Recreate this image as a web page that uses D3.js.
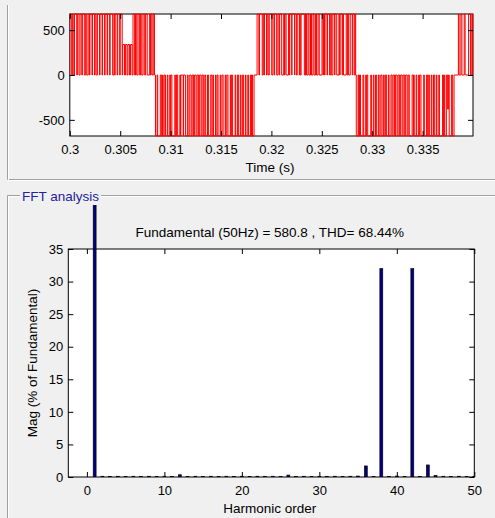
<!DOCTYPE html>
<html>
<head>
<meta charset="utf-8">
<script src="https://cdn.jsdelivr.net/npm/d3@7"></script>
<style>
  body { margin: 0; background: #f0f0f0; }
  text { font-family: "Liberation Sans", Arial, sans-serif; }
</style>
</head>
<body>
<div id="wrapper"></div>
<script>
// pulse edges, in ms: [on, off, level (optional)]
const pulsesPos1 = [[300.00,300.19],[300.25,300.34],[300.47,300.69],[300.75,300.91],[301.02,301.19],[301.25,301.44],[301.57,301.68],[301.82,301.95],[302.00,302.20],[302.25,302.45],[302.50,302.61],[302.74,302.95],[303.00,303.20],[303.25,303.45],[303.50,303.70],[303.75,303.95],[304.00,304.25],[304.38,304.45],[304.50,304.70],[304.75,304.95],[305.00,305.20],[305.25,305.43,340],[305.52,305.68,340],[305.77,305.93,340],[306.02,306.18,340],[306.27,306.43],[306.52,306.64],[306.77,306.93],[307.02,307.14],[307.27,307.43],[307.52,307.68],[307.92,308.00],[308.06,308.16],[308.28,308.40]];
const pulsesNeg1 = [[308.50,308.66],[308.72,308.98],[309.11,309.20],[309.25,309.36],[309.49,309.67],[309.73,309.92],[309.97,310.02],[310.13,310.42],[310.47,310.58],[310.70,310.92],[310.97,311.02],[311.25,311.28],[311.47,311.66],[311.74,311.90],[312.04,312.14],[312.28,312.38],[312.53,312.63],[312.78,312.88],[313.03,313.13],[313.28,313.40],[313.48,313.66],[313.77,313.98],[314.10,314.20],[314.25,314.45],[314.50,314.61],[314.71,314.92],[314.97,315.10],[315.21,315.42],[315.47,315.58],[315.69,315.92],[315.97,316.03],[316.15,316.40],[316.46,316.63],[316.75,316.92],[316.98,317.12],[317.24,317.42],[317.48,317.66],[317.72,317.91],[317.96,318.03],[318.13,318.28]];
const pulsesPos2 = [[318.58,318.76],[318.82,319.09],[319.19,319.27],[319.32,319.52],[319.57,319.68],[319.79,320.03],[320.15,320.27],[320.32,320.52],[320.65,320.77],[320.82,321.02],[321.22,321.30],[321.35,321.46],[321.70,321.77],[321.82,322.02],[322.04,322.30],[322.32,322.48],[322.56,322.77],[322.81,322.86],[322.95,323.27],[323.38,323.48],[323.63,323.73],[323.88,323.98],[324.13,324.23],[324.38,324.48],[324.63,324.75],[325.02,325.12],[325.16,325.27],[325.32,325.52],[325.57,325.77],[325.88,325.98],[326.10,326.28],[326.30,326.48],[326.70,326.77],[326.82,327.02],[327.07,327.15],[327.42,327.52],[327.57,327.66],[327.82,328.02],[328.07,328.22],[328.30,328.36]];
const pulsesNeg2 = [[328.42,328.60],[328.66,328.74],[328.84,329.08],[329.16,329.36],[329.41,329.46],[329.56,329.86],[329.92,330.11],[330.17,330.33],[330.44,330.61],[330.69,330.85],[330.97,331.11],[331.19,331.31],[331.43,331.61],[331.67,331.86],[331.97,332.07],[332.22,332.32],[332.47,332.57],[332.72,332.82],[332.97,333.07],[333.22,333.32],[333.47,333.57],[333.68,333.96],[334.08,334.11],[334.17,334.36],[334.42,334.61],[334.67,334.72],[334.84,335.11],[335.17,335.38],[335.50,335.61],[335.67,335.86],[335.92,336.08],[336.20,336.36],[336.42,336.61],[336.67,336.98],[337.08,337.15],[337.20,337.36],[337.48,337.58,380],[337.64,337.86],[337.98,338.12]];
const pulsesPos3 = [[338.55,338.62],[338.80,338.90],[339.13,339.22],[339.56,339.75],[339.88,339.95]];
const dcLevel = 680;

const timeTicks = [0.3, 0.305, 0.31, 0.315, 0.32, 0.325, 0.33, 0.335];
const voltTicks = [-500, 0, 500];

const harmonics = [0,1,2,3,4,5,6,7,8,9,10,11,12,13,14,15,16,17,18,19,20,21,22,23,24,25,26,27,28,29,30,31,32,33,34,35,36,37,38,39,40,41,42,43,44,45,46,47,48,49,50];
const magnitudes = [0,100,0.12,0.1,0.12,0.1,0.12,0.1,0.12,0.1,0.12,0.1,0.35,0.1,0.12,0.1,0.12,0.1,0.12,0.1,0.12,0.1,0.12,0.1,0.12,0.1,0.3,0.1,0.12,0.1,0.12,0.1,0.12,0.1,0.12,0.15,1.7,0.1,32.0,0.1,0.15,0.1,32.0,0.1,1.85,0.25,0.12,0.1,0.12,0.1,0.12];
const harmTicks = [0, 10, 20, 30, 40, 50];
const magTicks = [0, 5, 10, 15, 20, 25, 30, 35];

const titleText = "Fundamental (50Hz) = 580.8 , THD= 68.44%";

const W = 495, H = 518;
const svg = d3.select("#wrapper").append("svg")
    .attr("width", W).attr("height", H);

svg.append("rect").attr("width", W).attr("height", H).attr("fill", "#f0f0f0");

// panel frames
const frame = svg.append("g").attr("fill", "none");
frame.append("path").attr("d", "M7.5,5 V179.5 H495").attr("stroke", "#a0a0a0");
frame.append("path").attr("d", "M8.5,5 V180.5 H495").attr("stroke", "#ffffff");
frame.append("path").attr("d", "M20,195.5 H7.5 V518 M101,195.5 H495").attr("stroke", "#a0a0a0");
frame.append("path").attr("d", "M20,196.5 H8.5 V518 M101,196.5 H495").attr("stroke", "#ffffff");
svg.append("text").attr("x", 22).attr("y", 201)
    .style("font-size", "13.5px").attr("fill", "#2222a0").text("FFT analysis");

// ---------- top: time signal ----------
const sigBox = { left: 69.8, right: 473, top: 14, bottom: 136 };
const xTime = d3.scaleLinear().domain([0.3, 0.34]).range([sigBox.left, sigBox.right]);
const yVolt = d3.scaleLinear().domain([-dcLevel, dcLevel]).range([sigBox.bottom, sigBox.top]);

svg.append("rect").attr("x", sigBox.left).attr("y", sigBox.top)
    .attr("width", sigBox.right - sigBox.left).attr("height", sigBox.bottom - sigBox.top)
    .attr("fill", "#fff");

svg.append("clipPath").attr("id", "clipTop").append("rect")
    .attr("x", sigBox.left).attr("y", sigBox.top - 1)
    .attr("width", sigBox.right - sigBox.left).attr("height", sigBox.bottom - sigBox.top + 2);

const halves = [[pulsesPos1, 1], [pulsesNeg1, -1], [pulsesPos2, 1], [pulsesNeg2, -1], [pulsesPos3, 1]];
const pts = [[300, 0]];
halves.forEach(([pulses, s]) => {
    pulses.forEach(p => {
        const lvl = (p[2] || dcLevel) * s;
        pts.push([p[0], 0], [p[0], lvl], [p[1], lvl], [p[1], 0]);
    });
});
pts.push([340, 0]);

const line = d3.line()
    .x(d => xTime(d[0] / 1000))
    .y(d => yVolt(d[1]));

svg.append("rect").attr("x", sigBox.left).attr("y", sigBox.top)
    .attr("width", sigBox.right - sigBox.left).attr("height", sigBox.bottom - sigBox.top)
    .attr("fill", "none").attr("stroke", "#000");

svg.append("path")
    .attr("d", line(pts))
    .attr("clip-path", "url(#clipTop)")
    .attr("fill", "none")
    .attr("stroke", "#ff0000")
    .attr("stroke-width", 1);

function styleAxis(g) {
    g.select(".domain").remove();
    g.selectAll("text").style("font-size", "13px").attr("fill", "#000");
    g.selectAll("line").attr("stroke", "#000");
}

svg.append("g").attr("transform", `translate(0,${sigBox.bottom})`)
    .call(d3.axisBottom(xTime).tickValues(timeTicks).tickSizeInner(-5).tickSizeOuter(0)
        .tickPadding(8.8).tickFormat(d => String(d)))
    .call(styleAxis);
svg.append("g").attr("transform", `translate(0,${sigBox.top})`)
    .call(d3.axisTop(xTime).tickValues(timeTicks).tickSizeInner(-5).tickSizeOuter(0).tickFormat(""))
    .call(styleAxis);
svg.append("g").attr("transform", `translate(${sigBox.left},0)`)
    .call(d3.axisLeft(yVolt).tickValues(voltTicks).tickSizeInner(-5).tickSizeOuter(0).tickPadding(5)
        .tickFormat(d => String(d)))
    .call(styleAxis);
svg.append("g").attr("transform", `translate(${sigBox.right},0)`)
    .call(d3.axisRight(yVolt).tickValues(voltTicks).tickSizeInner(-5).tickSizeOuter(0).tickFormat(""))
    .call(styleAxis);

svg.append("text").attr("x", (sigBox.left + sigBox.right) / 2 - 1.5).attr("y", 171.5)
    .attr("text-anchor", "middle").style("font-size", "13.5px").text("Time (s)");

// ---------- bottom: FFT bars ----------
const fftBox = { left: 68.3, right: 474.3, top: 249, bottom: 477 };
const xHarm = d3.scaleLinear().domain([-2.4, 50]).range([fftBox.left, fftBox.right]);
const yMag = d3.scaleLinear().domain([0, 35]).range([fftBox.bottom, fftBox.top]);

svg.append("rect").attr("x", fftBox.left).attr("y", fftBox.top)
    .attr("width", fftBox.right - fftBox.left).attr("height", fftBox.bottom - fftBox.top)
    .attr("fill", "#fff");

svg.append("clipPath").attr("id", "clipBars").append("rect")
    .attr("x", fftBox.left).attr("y", 205)
    .attr("width", fftBox.right - fftBox.left).attr("height", fftBox.bottom - 205);

svg.append("rect").attr("x", fftBox.left).attr("y", fftBox.top)
    .attr("width", fftBox.right - fftBox.left).attr("height", fftBox.bottom - fftBox.top)
    .attr("fill", "none").attr("stroke", "#000");

svg.append("g").attr("transform", `translate(0,${fftBox.bottom})`)
    .call(d3.axisBottom(xHarm).tickValues(harmTicks).tickSizeInner(-5).tickSizeOuter(0).tickPadding(8.8))
    .call(styleAxis);
svg.append("g").attr("transform", `translate(0,${fftBox.top})`)
    .call(d3.axisTop(xHarm).tickValues(harmTicks).tickSizeInner(-5).tickSizeOuter(0).tickFormat(""))
    .call(styleAxis);
svg.append("g").attr("transform", `translate(${fftBox.left},0)`)
    .call(d3.axisLeft(yMag).tickValues(magTicks).tickSizeInner(-5).tickSizeOuter(0).tickPadding(5))
    .call(styleAxis);
svg.append("g").attr("transform", `translate(${fftBox.right},0)`)
    .call(d3.axisRight(yMag).tickValues(magTicks).tickSizeInner(-5).tickSizeOuter(0).tickFormat(""))
    .call(styleAxis);

svg.append("g").attr("clip-path", "url(#clipBars)")
    .selectAll("rect").data(harmonics.filter((h, i) => magnitudes[i] > 0))
    .join("rect")
    .attr("x", h => xHarm(h - 0.19))
    .attr("width", h => xHarm(h + 0.19) - xHarm(h - 0.19))
    .attr("y", h => yMag(magnitudes[h]))
    .attr("height", h => yMag(0) - yMag(magnitudes[h]))
    .attr("fill", "#000080")
    .attr("stroke", "#000")
    .attr("stroke-width", 0.6);

svg.append("text").attr("x", (fftBox.left + fftBox.right) / 2 - 1.5).attr("y", 237)
    .attr("text-anchor", "middle").style("font-size", "13.5px").text(titleText);

svg.append("text").attr("x", (fftBox.left + fftBox.right) / 2 - 1.5).attr("y", 512.5)
    .attr("text-anchor", "middle").style("font-size", "13.5px").text("Harmonic order");

svg.append("text")
    .attr("transform", `translate(36.5,${(fftBox.top + fftBox.bottom) / 2}) rotate(-90)`)
    .attr("text-anchor", "middle").style("font-size", "13.5px").text("Mag (% of Fundamental)");
</script>
</body>
</html>
